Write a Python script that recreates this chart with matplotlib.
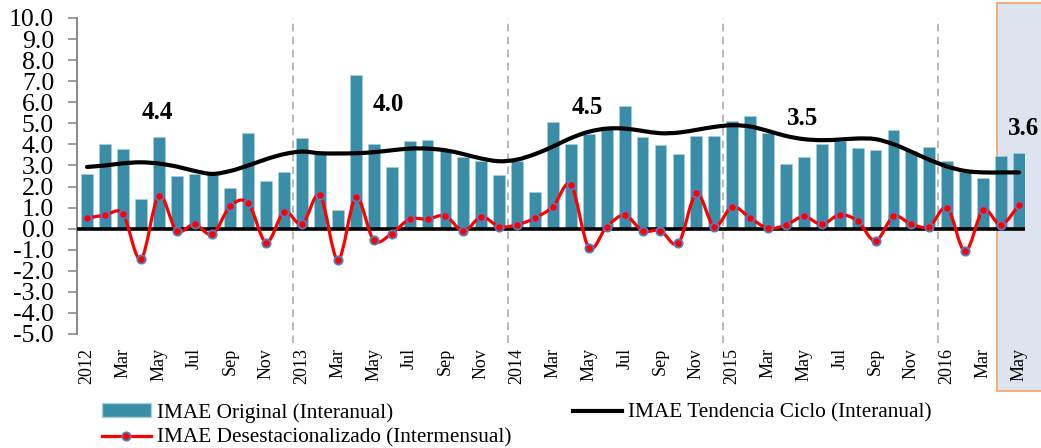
import numpy as np
import matplotlib
matplotlib.use('Agg')
import matplotlib.pyplot as plt
from matplotlib.path import Path
from matplotlib.patches import PathPatch, Rectangle, Patch
from matplotlib.lines import Line2D

plt.rcParams['font.family'] = ['Liberation Serif', 'DejaVu Serif']

# monthly data, Jan 2012 - May 2016
imae_original = [2.6, 4.0, 3.8, 1.4, 4.35, 2.5, 2.6, 2.6, 1.95, 4.53, 2.27, 2.7,
                 4.3, 3.55, 0.9, 7.28, 4.0, 2.93, 4.14, 4.23, 3.75, 3.38, 3.22, 2.54,
                 3.22, 1.75, 5.04, 4.0, 4.48, 4.75, 5.83, 4.34, 3.96, 3.54, 4.41, 4.39,
                 5.13, 5.35, 4.56, 3.06, 3.39, 4.03, 4.14, 3.85, 3.73, 4.67, 3.69, 3.88,
                 3.2, 2.7, 2.4, 3.46, 3.6]
imae_tendencia = [2.93, 3.0, 3.1, 3.15, 3.09, 2.95, 2.74, 2.6, 2.74, 3.0, 3.3, 3.54,
                  3.66, 3.58, 3.57, 3.58, 3.63, 3.72, 3.8, 3.8, 3.72, 3.54, 3.33, 3.2,
                  3.28, 3.54, 3.9, 4.3, 4.6, 4.75, 4.75, 4.64, 4.53, 4.56, 4.69, 4.83,
                  4.91, 4.85, 4.64, 4.4, 4.25, 4.2, 4.23, 4.28, 4.25, 4.01, 3.65, 3.27,
                  2.95, 2.74, 2.67, 2.67, 2.67]
imae_desest = [0.5, 0.64, 0.7, -1.45, 1.56, -0.1, 0.21, -0.26, 1.08, 1.21, -0.66, 0.8,
               0.21, 1.59, -1.48, 1.48, -0.55, -0.23, 0.45, 0.45, 0.61, -0.12, 0.56, 0.1,
               0.18, 0.51, 1.05, 2.08, -0.9, 0.09, 0.64, -0.1, -0.1, -0.69, 1.67, 0.1,
               1.04, 0.51, 0.02, 0.17, 0.58, 0.2, 0.66, 0.36, -0.58, 0.58, 0.21, 0.1,
               0.99, -1.08, 0.88, 0.18, 1.13]
years = ['2012', '2013', '2014', '2015', '2016']
month_labels = ['', 'Mar', 'May', 'Jul', 'Sep', 'Nov']
avg_labels = ['4.4', '4.0', '4.5', '3.5', '3.6']
avg_pos = [(3.9, 5.53), (16.8, 5.9), (27.9, 5.73), (39.9, 5.24)]

n = len(imae_original)
x = np.arange(n)
tick_pos = x[::2]
tick_lab = []
for i in tick_pos:
    tick_lab.append(years[i // 12] if i % 12 == 0 else month_labels[(i % 12) // 2])


def smooth_path(xs, ys):
    # excel-like smoothed line (catmull-rom as cubic bezier)
    p = np.column_stack([xs, ys]).astype(float)
    q = np.vstack([p[0], p, p[-1]])
    verts = [p[0]]
    codes = [Path.MOVETO]
    for i in range(len(p) - 1):
        c1 = q[i + 1] + (q[i + 2] - q[i]) / 6
        c2 = q[i + 2] - (q[i + 3] - q[i + 1]) / 6
        verts += [c1, c2, q[i + 2]]
        codes += [Path.CURVE4] * 3
    return Path(verts, codes)


fig = plt.figure(figsize=(10.41, 4.48), dpi=100)
ax = fig.add_axes([77 / 1041, 1 - 334 / 448, (1025 - 77) / 1041, 316 / 448])
ax.set_facecolor('none')

fig.patches.append(Rectangle((997 / 1041, 1 - 391 / 448), 0.1, 388 / 448,
                             transform=fig.transFigure, facecolor='#dde4ef',
                             edgecolor='#f2a463', lw=1.2, zorder=-5))

bar_col = '#3a8da6'
ax.bar(x, imae_original, width=0.66, color=bar_col, edgecolor='#a9cfdc', lw=0.4, zorder=2)

for k in range(12, n, 12):
    ax.axvline(k - 0.5, ymin=-0.03, ymax=1, color='#a6a6a6', lw=1.1,
               dashes=(5, 3.5), clip_on=False, zorder=1)

ax.axhline(0, color='black', lw=2.6, zorder=3)

ax.add_patch(PathPatch(smooth_path(x, imae_tendencia), fill=False, ec='black',
                       lw=3.0, capstyle='round', zorder=4))
ax.add_patch(PathPatch(smooth_path(x, imae_desest), fill=False, ec='#ff0000',
                       lw=2.3, zorder=5))
ax.plot(x, imae_desest, 'o', ls='none', mfc='#ff0000', mec='#4f7fc0', ms=6, mew=1.3, zorder=6)

for lab, (px, py) in zip(avg_labels, avg_pos):
    ax.text(px, py, lab, ha='center', va='center', fontsize=18, fontweight='bold')
ax.text(51.4, 4.77, avg_labels[-1], ha='left', va='center', fontsize=18,
        fontweight='bold', clip_on=False)

ax.set_xlim(-0.56, 52.34)
ax.set_ylim(-5, 10)
ax.set_yticks(np.arange(-5, 11, 1))
ax.set_yticklabels(['%.1f' % v for v in np.arange(-5, 11, 1)], fontsize=18.5)
ax.set_xticks(tick_pos)
ax.set_xticklabels(tick_lab, rotation=90, fontsize=13)
ax.tick_params(axis='x', length=0, pad=10)
ax.tick_params(axis='y', length=6.5, width=1.2, color='#8c8c8c', pad=10)
for s in ['top', 'right', 'bottom']:
    ax.spines[s].set_visible(False)
ax.spines['left'].set_color('#8c8c8c')
ax.spines['left'].set_linewidth(1.5)

handles = [Patch(facecolor=bar_col, edgecolor='#a9cfdc'),
           Line2D([], [], color='#ff0000', lw=2.3, marker='o', mfc='#ff0000',
                  mec='#4f7fc0', ms=6, mew=1.3),
           Line2D([], [], color='black', lw=3.0)]
labels = ['IMAE Original (Interanual)', 'IMAE Desestacionalizado (Intermensual)',
          'IMAE Tendencia Ciclo (Interanual)']
fig.legend(handles, labels, loc='upper left', bbox_to_anchor=(102 / 1041, 1 - 403 / 448),
           ncol=2, frameon=False, fontsize=15.3, handlelength=2.3, handleheight=0.6,
           handletextpad=0.3, columnspacing=2.9, labelspacing=0.28,
           borderpad=0, borderaxespad=0)

fig.savefig('out.png', dpi=100)
